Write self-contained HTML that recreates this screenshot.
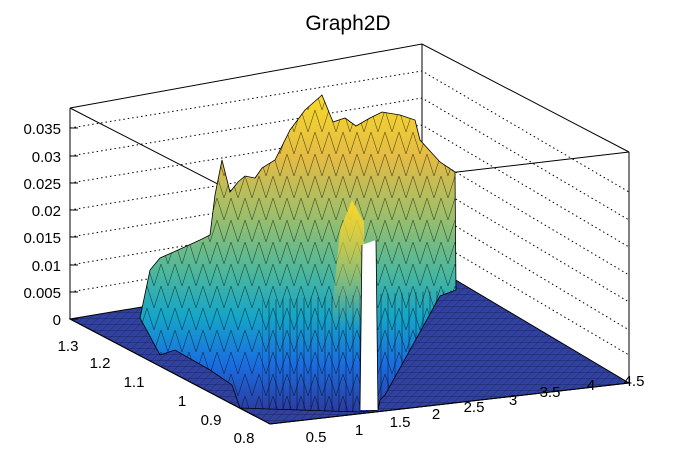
<!DOCTYPE html>
<html><head><style>
body{margin:0;background:#fff}
svg{display:block;font-family:"Liberation Sans",sans-serif}
</style></head><body>
<svg width="696" height="472" viewBox="0 0 696 472">
<defs>
<linearGradient id="g" x1="0" y1="95" x2="0" y2="412" gradientUnits="userSpaceOnUse">
<stop offset="0" stop-color="#f7d92a"/>
<stop offset="0.2" stop-color="#e3bb45"/>
<stop offset="0.38" stop-color="#9dbf6a"/>
<stop offset="0.55" stop-color="#4fb89a"/>
<stop offset="0.7" stop-color="#14a5c9"/>
<stop offset="0.85" stop-color="#1a6de0"/>
<stop offset="1" stop-color="#2b3ba0"/>
</linearGradient>
<linearGradient id="y" x1="0" y1="200" x2="0" y2="330" gradientUnits="userSpaceOnUse">
<stop offset="0" stop-color="#f8d82a"/>
<stop offset="1" stop-color="#d9c050" stop-opacity="0"/>
</linearGradient>
<pattern id="fl" width="8" height="6" patternUnits="userSpaceOnUse" patternTransform="skewX(-45)">
<rect width="8" height="6" fill="#31419e"/>
<path d="M0 0H8M0 0V6" stroke="#0a1040" stroke-width="0.6"/>
</pattern>
<pattern id="mesh" width="14" height="22" patternUnits="userSpaceOnUse">
<path d="M0 22L7 0L14 22" stroke="#000" stroke-width="0.6" fill="none" opacity="0.6"/>
</pattern>
<pattern id="vl" width="7" height="10" patternUnits="userSpaceOnUse">
<path d="M3 0V10" stroke="#000" stroke-width="0.6" opacity="0.7"/>
</pattern>
</defs>
<text x="348" y="30" font-size="21" text-anchor="middle">Graph2D</text>
<g fill="none" stroke="#000" stroke-width="1">
<path d="M70 108L422 44L629 152"/>
<path d="M422 44V260"/>
<path d="M70 108V319"/>
<path d="M629 152V383"/>
</g>
<g stroke="#000" stroke-dasharray="1.5,3" stroke-width="1" fill="none">
<path d="M70 292L422 233L629 355"/>
<path d="M70 265L422 206L629 330"/>
<path d="M70 237L422 179L629 302"/>
<path d="M70 210L422 152L629 275"/>
<path d="M70 183L422 125L629 247"/>
<path d="M70 156L422 98L629 220"/>
<path d="M70 128L422 71L629 192"/>
</g>
<path d="M70 319L422 260L629 383L270 424Z" fill="url(#fl)" stroke="#000"/>
<path d="M70 108L272 212M629 152L440 174" stroke="#000" fill="none"/>
<path d="M140 318L150 270L160 258L178 250L200 240L210 235L215 195L222 160L230 192L238 182L245 176L255 178L262 168L275 160L290 130L305 110L322 95L333 122L345 118L356 126L370 118L382 112L400 115L415 120L420 140L440 162L455 172L456 290L440 296L385 395L380 400L378 410L360 412L240 408L232 385L210 370L175 350L160 355Z" fill="url(#g)" stroke="#000" stroke-width="0.8"/>
<path d="M140 318L150 270L160 258L178 250L200 240L210 235L215 195L222 160L230 192L238 182L245 176L255 178L262 168L275 160L290 130L305 110L322 95L333 122L345 118L356 126L370 118L382 112L400 115L415 120L420 140L440 162L455 172L456 290L440 296L385 395L380 400L378 410L360 412L240 408L232 385L210 370L175 350L160 355Z" fill="url(#mesh)"/>
<path d="M262 300L456 290L440 296L385 395L380 400L378 410L360 412L262 408Z" fill="url(#vl)"/>
<path d="M330 330L340 230L352 200L364 222L366 330Z" fill="url(#y)"/>
<path d="M362 245L376 240L378 410L360 410Z" fill="#fff"/>
<path d="M362 245L360 410M376 240L378 410" stroke="#000" stroke-width="0.8"/>
<g stroke="#000" stroke-width="1">
<path d="M70 319h8M70 292h8M70 265h8M70 237h8M70 210h8M70 183h8M70 156h8M70 128h8"/>
</g>
<g font-size="15" text-anchor="end">
<text x="61" y="325">0</text>
<text x="61" y="298">0.005</text>
<text x="61" y="271">0.01</text>
<text x="61" y="243">0.015</text>
<text x="61" y="216">0.02</text>
<text x="61" y="189">0.025</text>
<text x="61" y="162">0.03</text>
<text x="61" y="134">0.035</text>
</g>
<path d="M70 319L270 424L629 383" stroke="#000" fill="none"/>
<g font-size="15" text-anchor="middle">
<text x="68" y="351">1.3</text>
<text x="100" y="368">1.2</text>
<text x="134" y="387">1.1</text>
<text x="182" y="406">1</text>
<text x="211" y="425">0.9</text>
<text x="244" y="443">0.8</text>
<text x="316" y="442">0.5</text>
<text x="359" y="435">1</text>
<text x="400" y="427">1.5</text>
<text x="436" y="419">2</text>
<text x="474" y="412">2.5</text>
<text x="513" y="405">3</text>
<text x="550" y="397">3.5</text>
<text x="591" y="390">4</text>
<text x="634" y="386">4.5</text>
</g>
</svg>
</body></html>
